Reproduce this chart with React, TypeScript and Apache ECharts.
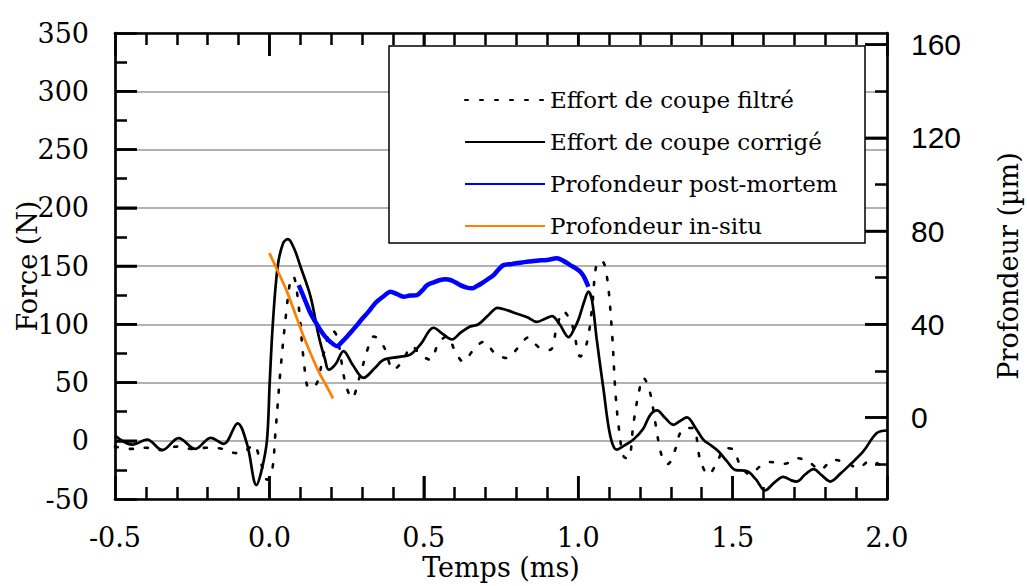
import { useEffect, useRef } from "react";
import * as echarts from "echarts";

// ---- tick values ----
const timeTicks = [-0.5, 0.0, 0.5, 1.0, 1.5, 2.0];
const forceTicks = [-50, 0, 50, 100, 150, 200, 250, 300, 350];
const depthTicks = [0, 40, 80, 120, 160];
const depthMinorTicks = [-20, 20, 60, 100, 140];

// ---- series names ----
const seriesNames = [
  "Effort de coupe filtré",
  "Effort de coupe corrigé",
  "Profondeur post-mortem",
  "Profondeur in-situ",
];

// ---- Effort de coupe filtré (dotted) ----
const filteredT = [
  -0.5, -0.45, -0.4, -0.35, -0.3, -0.25, -0.2, -0.15, -0.107, -0.075, -0.051, -0.029, -0.007,
  0.009, 0.019, 0.036, 0.052, 0.068, 0.077, 0.095, 0.111, 0.129, 0.154, 0.176, 0.203, 0.219,
  0.246, 0.268, 0.289, 0.321, 0.338, 0.37, 0.402, 0.43, 0.462, 0.489, 0.521, 0.548, 0.575,
  0.602, 0.627, 0.661, 0.694, 0.731, 0.769, 0.807, 0.839, 0.872, 0.909, 0.931, 0.952, 0.98,
  1.007, 1.028, 1.044, 1.06, 1.077, 1.093, 1.109, 1.12, 1.131, 1.147, 1.163, 1.179, 1.196,
  1.211, 1.233, 1.249, 1.271, 1.29, 1.314, 1.33, 1.35, 1.373, 1.395, 1.422, 1.449, 1.476,
  1.503, 1.524, 1.557, 1.589, 1.621, 1.67, 1.708, 1.751, 1.783, 1.826, 1.869, 1.907, 1.945,
  1.977, 2.0,
];
const filteredF = [
  -5, -7, -6, -8, -5, -7, -6, -7, -10.6, -8, -3.4, -17.8, -33.5,
  -25, 5, 61, 104, 138, 141, 115, 69.5, 45, 49.5, 75, 95, 89.5,
  49.5, 36.6, 52, 81, 89.5, 81, 61, 68, 81, 74, 69.5, 84, 89.5,
  76.7, 68, 78, 85, 75, 71, 80.4, 88.7, 80.4, 78, 98, 111, 99.6,
  72.4, 84, 112, 152.5, 154, 141, 95, 44, 12.3, -13.5, -15, 15, 41,
  54, 41, 16.6, -13.5, -20, -7.7, 6.6, 11, 11, -16.3, -29, -19, -6.3,
  -7.7, -20.6, -29, -22, -18.3, -19.7, -14.9, -19, -25, -16.3, -19, -23.4, -17.2,
  -20.6, -25,
];

// ---- Effort de coupe corrigé (solid) ----
const correctedT = [
  -0.5, -0.444, -0.396, -0.347, -0.294, -0.24, -0.19, -0.148, -0.103, -0.072, -0.042, -0.025,
  -0.008, 0.001, 0.011, 0.027, 0.045, 0.06, 0.08, 0.1, 0.133, 0.16, 0.18, 0.192, 0.215, 0.24,
  0.27, 0.305, 0.34, 0.37, 0.42, 0.456, 0.49, 0.532, 0.56, 0.591, 0.62, 0.65, 0.677, 0.71,
  0.739, 0.77, 0.802, 0.835, 0.866, 0.895, 0.915, 0.94, 0.969, 0.985, 1.001, 1.02, 1.033,
  1.045, 1.06, 1.082, 1.104, 1.125, 1.15, 1.179, 1.21, 1.233, 1.255, 1.28, 1.308, 1.33, 1.352,
  1.38, 1.405, 1.43, 1.454, 1.48, 1.508, 1.546, 1.575, 1.605, 1.635, 1.664, 1.69, 1.708, 1.735,
  1.762, 1.79, 1.816, 1.85, 1.88, 1.923, 1.967, 2.0,
];
const correctedF = [
  4.5, -3.4, 1, -8, 2.3, -7, 2.5, -2.6, 15, -3.4, -38, -25,
  0, 50, 100, 150, 170, 173, 165, 150, 124, 89.5, 70, 61, 66, 77,
  65, 54, 62, 69.5, 72, 74, 83, 97, 92, 87, 93, 98, 100, 108,
  114, 112, 109, 106, 102, 105, 107, 100, 89, 95, 104, 120, 128,
  120, 87, 44, 4, -7.7, -4, 1, 10, 22, 26, 20, 13.7, 17, 20,
  11, 1, -4, -9, -17, -25, -26, -33, -42.6, -36, -31, -34, -35, -29,
  -24.3, -30, -35, -28, -20.6, -9.2, 6.6, 8.8,
];

// ---- Profondeur post-mortem (blue, µm) ----
const postMortemT = [
  0.095, 0.115, 0.133, 0.15, 0.165, 0.18, 0.197, 0.219, 0.235, 0.251, 0.268, 0.284, 0.302,
  0.321, 0.335, 0.348, 0.37, 0.392, 0.412, 0.435, 0.455, 0.478, 0.495, 0.511, 0.532, 0.553,
  0.57, 0.586, 0.602, 0.618, 0.637, 0.656, 0.672, 0.688, 0.707, 0.726, 0.742, 0.758, 0.785,
  0.812, 0.84, 0.866, 0.899, 0.931, 0.952, 0.974, 0.99, 1.007, 1.02, 1.033,
];
const postMortemD = [
  56.8, 50.5, 44.7, 40.8, 37.5, 34.8, 32.5, 30.6, 32.4, 34.6, 37.2, 39.7, 42.6,
  45.4, 47.8, 49.7, 52, 54, 53, 51.8, 52.3, 52.5, 54.5, 56.8, 58, 59,
  59.3, 59, 58, 56.8, 55.8, 55.4, 56.4, 57.6, 59.3, 61.1, 63.5, 65.4, 65.9,
  66.4, 66.9, 67.3, 67.6, 68.3, 67.2, 65.4, 64.2, 62.5, 60, 56.1,
];

// ---- Profondeur in-situ (orange, µm) ----
const inSituT = [0.0, 0.03, 0.057, 0.085, 0.111, 0.135, 0.16, 0.185, 0.206];
const inSituD = [70.5, 62, 54, 44, 34.6, 27, 19.6, 13.5, 8.2];

const pairs = (xs: number[], ys: number[]) => xs.map((x, i) => [x, ys[i]]);

const SERIF = "'DejaVu Serif', serif";
const SANS = "'Liberation Sans', Arial, sans-serif";

const frame = () => ({ show: true, onZero: false, lineStyle: { color: "#000", width: 2.7 } });
const hiddenLine = () => ({ show: false, onZero: false });
const tick = (len: number, values?: number[]) => ({
  show: true,
  inside: true,
  length: len,
  ...(values ? { customValues: values } : {}),
  lineStyle: { color: "#000", width: 2.5 },
});
const minor = (n: number, len = 12) => ({
  show: true,
  splitNumber: n,
  length: len,
  lineStyle: { color: "#000", width: 2.5 },
});

const MAJOR_X = 23;
const MAJOR_Y = 22;

export default function App() {
  const ref = useRef<HTMLDivElement>(null);

  useEffect(() => {
    if (!ref.current) return;
    const chart = echarts.init(ref.current, null, { renderer: "svg" });

    const tMin = timeTicks[0];
    const tMax = timeTicks[timeTicks.length - 1];
    const fMin = forceTicks[0];
    const fMax = forceTicks[forceTicks.length - 1];
    const dMin = -35;
    const dMax = 165;

    const xRange = {
      type: "value",
      min: tMin,
      max: tMax,
      interval: 0.5,
      splitLine: { show: false },
    };
    const legendBox = {
      type: "rect",
      z: 15,
      shape: { x: 389, y: 46, width: 476, height: 197 },
      style: { fill: "#fff", stroke: "#000", lineWidth: 1.5 },
    };

    chart.setOption({
      animation: false,
      backgroundColor: "#fff",
      grid: {
        left: 115,
        right: 140,
        top: 33,
        bottom: 87,
        containLabel: false,
        outerBoundsMode: "none",
      },
      xAxis: [
        {
          ...xRange,
          position: "bottom",
          axisLine: frame(),
          axisTick: tick(MAJOR_X),
          minorTick: minor(5),
          name: "Temps (ms)",
          nameLocation: "middle",
          nameGap: 55,
          nameMoveOverlap: false,
          nameTextStyle: { fontFamily: SERIF, fontSize: 27, color: "#000" },
          axisLabel: {
            margin: 25,
            fontFamily: SERIF,
            fontSize: 27,
            color: "#000",
            formatter: (v: number) => (timeTicks.includes(v) ? v.toFixed(1) : ""),
          },
        },
        {
          ...xRange,
          position: "top",
          axisLine: frame(),
          axisTick: tick(MAJOR_X),
          minorTick: minor(5),
          axisLabel: { show: false },
        },
      ],
      yAxis: [
        {
          type: "value",
          min: fMin,
          max: fMax,
          interval: 50,
          position: "left",
          name: "Force (N)",
          nameLocation: "middle",
          nameRotate: 90,
          nameGap: 74,
          nameMoveOverlap: false,
          nameTextStyle: { fontFamily: SERIF, fontSize: 27, color: "#000" },
          axisLine: frame(),
          axisTick: tick(MAJOR_Y),
          minorTick: minor(2),
          splitLine: { show: true, lineStyle: { color: "#999", width: 1.5 } },
          axisLabel: {
            margin: 26,
            fontFamily: SERIF,
            fontSize: 27,
            color: "#000",
            formatter: (v: number) => String(v),
          },
        },
        {
          type: "value",
          min: dMin,
          max: dMax,
          position: "right",
          name: "Profondeur (µm)",
          nameLocation: "middle",
          nameRotate: 90,
          nameGap: 108,
          nameMoveOverlap: false,
          nameTextStyle: { fontFamily: SERIF, fontSize: 27, color: "#000" },
          axisLine: frame(),
          axisTick: tick(MAJOR_Y, depthTicks),
          splitLine: { show: false },
          axisLabel: {
            customValues: depthTicks,
            margin: 24,
            fontFamily: SANS,
            fontSize: 30,
            color: "#000",
          },
        },
        {
          type: "value",
          min: dMin,
          max: dMax,
          position: "right",
          axisLine: hiddenLine(),
          axisTick: tick(12, depthMinorTicks),
          splitLine: { show: false },
          axisLabel: { show: false },
        },
      ],
      legend: {
        z: 20,
        orient: "vertical",
        left: 459,
        top: 83,
        itemWidth: 80,
        itemHeight: 20,
        itemGap: 18,
        data: seriesNames,
        itemStyle: { opacity: 0 },
        textStyle: { fontFamily: SERIF, fontSize: 23, color: "#000", lineHeight: 24 },
      },
      graphic: { z: 15, elements: [legendBox] },
      series: [
        {
          name: seriesNames[0],
          type: "line",
          xAxisIndex: 0,
          yAxisIndex: 0,
          data: pairs(filteredT, filteredF),
          smooth: 0.35,
          symbol: "none",
          lineStyle: { color: "#000", width: 2.6, type: [3, 12], cap: "round" },
          itemStyle: { color: "#000" },
          z: 2,
        },
        {
          name: seriesNames[1],
          type: "line",
          xAxisIndex: 0,
          yAxisIndex: 0,
          data: pairs(correctedT, correctedF),
          smooth: 0.35,
          symbol: "none",
          lineStyle: { color: "#000", width: 2.7 },
          itemStyle: { color: "#000" },
          z: 3,
        },
        {
          name: seriesNames[2],
          type: "line",
          xAxisIndex: 0,
          yAxisIndex: 1,
          data: pairs(postMortemT, postMortemD),
          smooth: 0.3,
          symbol: "none",
          lineStyle: { color: "#0000ff", width: 4.5 },
          itemStyle: { color: "#0000ff" },
          z: 4,
        },
        {
          name: seriesNames[3],
          type: "line",
          xAxisIndex: 0,
          yAxisIndex: 1,
          data: pairs(inSituT, inSituD),
          smooth: 0.3,
          symbol: "none",
          lineStyle: { color: "#ff7f00", width: 2.7 },
          itemStyle: { color: "#ff7f00" },
          z: 5,
        },
      ],
    });

    // Long inward major ticks, placed through the axes' own scales.
    const xLeft = chart.convertToPixel({ xAxisIndex: 0 }, tMin) as number;
    const xRight = chart.convertToPixel({ xAxisIndex: 0 }, tMax) as number;
    const yTop = chart.convertToPixel({ yAxisIndex: 0 }, fMax) as number;
    const yBottom = chart.convertToPixel({ yAxisIndex: 0 }, fMin) as number;
    const tickStyle = { stroke: "#000", lineWidth: 2.5 };
    const tickLines: any[] = [];
    timeTicks.slice(1, -1).forEach((t) => {
      const x = chart.convertToPixel({ xAxisIndex: 0 }, t) as number;
      tickLines.push({ type: "line", z: 10, shape: { x1: x, y1: yBottom, x2: x, y2: yBottom - MAJOR_X }, style: tickStyle });
      tickLines.push({ type: "line", z: 10, shape: { x1: x, y1: yTop, x2: x, y2: yTop + MAJOR_X }, style: tickStyle });
    });
    forceTicks.slice(1, -1).forEach((f) => {
      const y = chart.convertToPixel({ yAxisIndex: 0 }, f) as number;
      tickLines.push({ type: "line", z: 10, shape: { x1: xLeft, y1: y, x2: xLeft + MAJOR_Y, y2: y }, style: tickStyle });
    });
    depthTicks.forEach((d) => {
      const y = chart.convertToPixel({ yAxisIndex: 1 }, d) as number;
      tickLines.push({ type: "line", z: 10, shape: { x1: xRight, y1: y, x2: xRight - MAJOR_Y, y2: y }, style: tickStyle });
    });

    chart.setOption({ graphic: { z: 15, elements: [...tickLines, legendBox] } }, { replaceMerge: ["graphic"] });

    return () => chart.dispose();
  }, []);

  return (
    <div
      ref={ref}
      style={{ position: "absolute", left: 0, top: 0, width: 1027, height: 586, background: "#fff" }}
    />
  );
}
